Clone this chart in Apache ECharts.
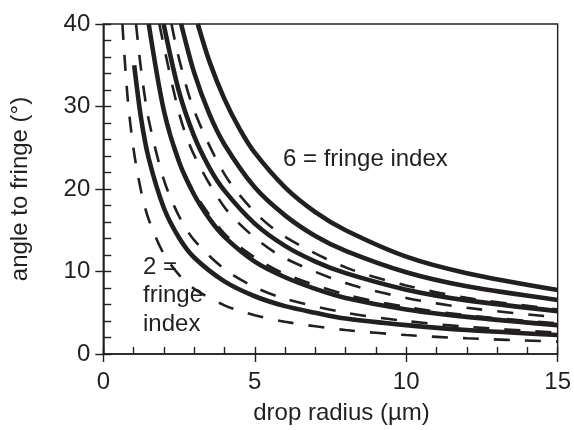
<!DOCTYPE html>
<html>
<head>
<meta charset="utf-8">
<script src="https://cdn.jsdelivr.net/npm/echarts@6/dist/echarts.min.js"></script>
<style>
  html, body { margin: 0; padding: 0; background: #ffffff; }
  #chart { width: 574px; height: 430px; }
</style>
</head>
<body>
<div id="chart"></div>
<script>
// Axis ranges and tick labels
const xTicks = [0, 5, 10, 15];
const yTicks = [0, 10, 20, 30, 40];
const xTitle = 'drop radius (µm)';
const yTitle = 'angle to fringe (°)';

// Solid curves: fringe index 2 .. 6  [drop radius (µm), angle (°)]
const solid2 = [[1.02,35],[1.25,28.5],[1.5,23.7],[2,17.7],[2.5,14.1],[3,11.7],[4,8.8],[5,7.0],[6,5.8],[7,5.0],[8,4.3],[10,3.5],[12,2.9],[15,2.3]];
const solid3 = [[1.5,40],[2,29.5],[2.5,23.3],[3,19.3],[3.5,16.4],[4,14.2],[5,11.2],[6,9.3],[7,7.9],[8,6.8],[10,5.4],[12,4.5],[15,3.5]];
const solid4 = [[1.99,40],[2.5,31.8],[3,26.4],[3.5,22.6],[4,19.8],[5,15.8],[6,13.1],[7,11.2],[8,9.8],[10,7.8],[12,6.5],[15,5.2]];
const solid5 = [[2.57,40],[3,34.1],[3.5,29.1],[4,25.4],[5,20.2],[6,16.8],[7,14.3],[8,12.5],[10,9.9],[12,8.2],[15,6.55]];
const solid6 = [[3.12,40],[3.5,35.5],[4,30.9],[4.5,27.3],[5,24.4],[6,20.2],[7,17.2],[8,15.0],[10,11.8],[12,9.8],[15,7.76]];

// Dashed curves
const dashed1 = [[0.63,40],[0.8,31.2],[1,24.8],[1.25,19.7],[1.5,16.3],[2,12.1],[2.5,9.6],[3,7.9],[4,5.9],[5,4.7],[6,3.9],[8,2.9],[10,2.3],[12,1.9],[15,1.5]];
const dashed2 = [[1.08,40],[1.25,34.4],[1.5,28.4],[2,21.1],[2.5,16.7],[3,13.8],[4,10.3],[5,8.1],[6,6.7],[8,5.0],[10,4.0],[12,3.3],[15,2.6]];
const dashed3 = [[1.5,40],[2,29.8],[2.5,23.6],[3,19.6],[4,14.6],[5,11.7],[6,9.7],[8,7.2],[10,5.7],[12,4.7],[15,3.7]];
const dashed4 = [[1.85,40],[2.5,29.2],[3,24.1],[4,17.8],[5,14.1],[6,11.6],[8,8.6],[10,6.8],[12,5.6],[15,4.45]];
const dashed5 = [[2.25,40],[2.5,35.8],[3,29.5],[4,21.8],[5,17.2],[6,14.2],[8,10.5],[10,8.3],[12,6.8],[15,5.4]];

const solidCurves = [solid2, solid3, solid4, solid5, solid6];
const dashedCurves = [dashed1, dashed2, dashed3, dashed4, dashed5];

const INK = '#231f20';
const FONT = '"Liberation Sans", Arial, Helvetica, sans-serif';
const FS = 24;

const chart = echarts.init(document.getElementById('chart'), null, { renderer: 'canvas' });

const xStep = xTicks[1] - xTicks[0];
const yStep = yTicks[1] - yTicks[0];

function curveSeries(data, dashed) {
  return {
    type: 'line',
    xAxisIndex: 0,
    yAxisIndex: 0,
    data: data,
    smooth: 0.3,
    showSymbol: false,
    symbol: 'none',
    clip: true,
    silent: true,
    lineStyle: dashed
      ? { color: INK, width: 2.6, type: [16, 15], cap: 'butt' }
      : { color: INK, width: 4.6, type: 'solid', cap: 'butt' }
  };
}

const series = [];
dashedCurves.forEach(d => series.push(curveSeries(d, true)));
solidCurves.forEach(d => series.push(curveSeries(d, false)));

const option = {
  backgroundColor: '#ffffff',
  animation: false,
  grid: {
    left: 103.3, right: 6.7, top: 24, bottom: 76,
    show: true, borderColor: INK, borderWidth: 1.4, backgroundColor: 'transparent'
  },
  xAxis: [
    {
      type: 'value', position: 'bottom',
      min: xTicks[0], max: xTicks[xTicks.length - 1], interval: xStep,
      axisLine: { show: true, lineStyle: { color: INK, width: 1.5 } },
      axisTick: { show: true, inside: false, length: 8, lineStyle: { color: INK, width: 1.4 } },
      axisLabel: { show: true, color: INK, fontSize: FS, fontFamily: FONT, margin: 16 },
      splitLine: { show: false },
      name: xTitle, nameLocation: 'middle', nameGap: 47,
      nameTextStyle: { color: INK, fontSize: FS, fontFamily: FONT, padding: [0, 0, 0, 22] }
    },
    {
      type: 'value', position: 'bottom',
      min: xTicks[0], max: xTicks[xTicks.length - 1], interval: xStep,
      axisLine: { show: false },
      axisTick: { show: true, inside: true, length: 7, lineStyle: { color: INK, width: 1.4 } },
      minorTick: { show: true, splitNumber: 5, length: 7, lineStyle: { color: INK, width: 1.4 } },
      axisLabel: { show: false },
      splitLine: { show: false }
    }
  ],
  yAxis: [
    {
      type: 'value', position: 'left',
      min: yTicks[0], max: yTicks[yTicks.length - 1], interval: yStep,
      axisLine: { show: true, lineStyle: { color: INK, width: 1.5 } },
      axisTick: { show: true, inside: false, length: 8, lineStyle: { color: INK, width: 1.4 } },
      axisLabel: { show: true, color: INK, fontSize: FS, fontFamily: FONT, margin: 13 },
      splitLine: { show: false },
      name: yTitle, nameLocation: 'middle', nameGap: 71, nameRotate: 90,
      nameTextStyle: { color: INK, fontSize: FS, fontFamily: FONT }
    },
    {
      type: 'value', position: 'left',
      min: yTicks[0], max: yTicks[yTicks.length - 1], interval: yStep,
      axisLine: { show: false },
      axisTick: { show: true, inside: true, length: 8, lineStyle: { color: INK, width: 1.4 } },
      minorTick: { show: true, splitNumber: 5, length: 8, lineStyle: { color: INK, width: 1.4 } },
      axisLabel: { show: false },
      splitLine: { show: false }
    }
  ],
  graphic: [
    {
      type: 'text', left: 283, top: 147, silent: true,
      style: { text: '6 = fringe index', fill: INK, fontSize: FS, fontFamily: FONT }
    },
    {
      type: 'text', left: 143, top: 253, silent: true,
      style: { text: '2 =\nfringe\nindex', fill: INK, fontSize: FS, fontFamily: FONT, lineHeight: 28.5 }
    }
  ],
  series: series
};

chart.setOption(option);
</script>
</body>
</html>
